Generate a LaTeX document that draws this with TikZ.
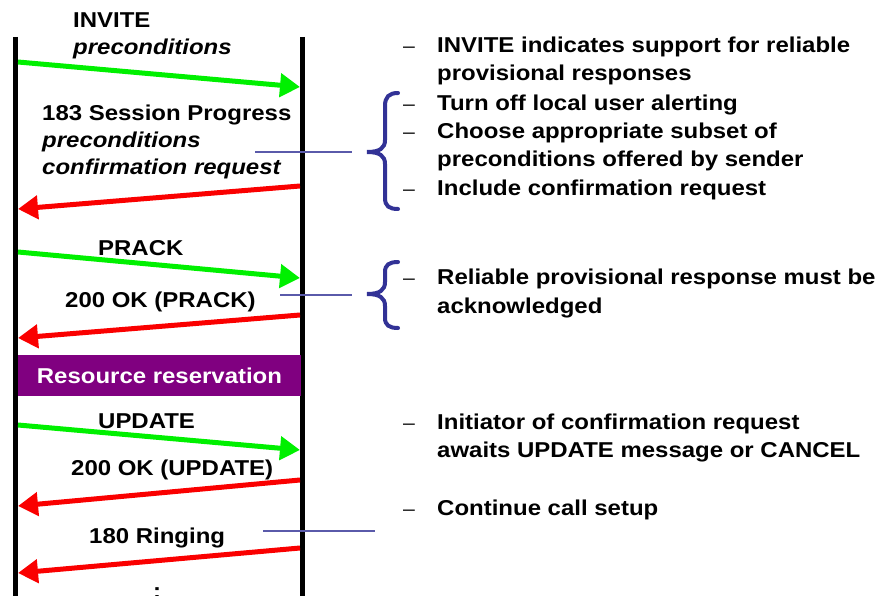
\documentclass[tikz,border=0pt]{standalone}
\usepackage{fontspec}
\setmainfont{Liberation Sans}[FakeStretch=1.115]
\usetikzlibrary{arrows.meta}
\definecolor{msggreen}{RGB}{0,240,0}
\definecolor{msgred}{RGB}{250,0,0}
\definecolor{resv}{RGB}{128,0,128}
\definecolor{bracecol}{RGB}{50,50,150}
\definecolor{leadcol}{RGB}{90,90,170}
\tikzset{
  lifeline/.style={line width=5pt},
  msgarrow/.style={line width=5pt,-{Triangle[length=20pt,width=23pt]}},
  req/.style={msgarrow,draw=msggreen},
  resp/.style={msgarrow,draw=msgred},
  lbl/.style={anchor=base west,inner sep=0pt,font=\fontsize{21.5}{28}\selectfont\bfseries},
  ilbl/.style={lbl,font=\fontsize{21.5}{28}\selectfont\bfseries\itshape},
  dashmark/.style={anchor=base west,inner sep=0pt,font=\fontsize{19}{28}\selectfont},
  leader/.style={draw=leadcol,line width=1.2pt},
  bracestyle/.style={draw=bracecol,line width=4pt,line cap=round},
}
\begin{document}
\begin{tikzpicture}[x=1pt,y=-1pt]
\useasboundingbox (0,0) rectangle (880,596);
% lifelines
\coordinate (Ltop) at (15.5,37);
\coordinate (Lbot) at (15.5,600);
\coordinate (Rtop) at (302.5,37);
\coordinate (Rbot) at (302.5,600);
\draw[lifeline] (Ltop) -- (Lbot);
\draw[lifeline] (Rtop) -- (Rbot);
% resource reservation
\node[fill=resv,text=white,minimum width=283pt,minimum height=41pt,inner sep=0pt,
      font=\fontsize{21.5}{28}\selectfont\bfseries] (resv) at (159.5,375.5) {Resource reservation};
% arrow endpoints
\coordinate (a1s) at (18,62);  \coordinate (a1e) at (300,87);
\coordinate (a2s) at (300,186); \coordinate (a2e) at (18,209);
\coordinate (a3s) at (18,252); \coordinate (a3e) at (300,278);
\coordinate (a4s) at (300,315); \coordinate (a4e) at (18,338);
\coordinate (a5s) at (18,425); \coordinate (a5e) at (300,450);
\coordinate (a6s) at (300,480); \coordinate (a6e) at (18,506);
\coordinate (a7s) at (300,548); \coordinate (a7e) at (18,573);
\draw[req] (a1s) -- (a1e);
\draw[resp] (a2s) -- (a2e);
\draw[req] (a3s) -- (a3e);
\draw[resp] (a4s) -- (a4e);
\draw[req] (a5s) -- (a5e);
\draw[resp] (a6s) -- (a6e);
\draw[resp] (a7s) -- (a7e);
% left labels
\node[lbl] (t1a) at (73,28) {INVITE};
\node[ilbl] (t1b) at (73,55) {preconditions};
\node[lbl] (t2a) at (42,121) {183 Session Progress};
\node[ilbl] (t2b) at (42,148) {preconditions};
\node[ilbl] (t2c) at (42,175) {confirmation request};
\node[lbl] (t3) at (98,255) {PRACK};
\node[lbl] (t4) at (65,307) {200 OK (PRACK)};
\node[lbl] (t5) at (98,428) {UPDATE};
\node[lbl] (t6) at (71,475) {200 OK (UPDATE)};
\node[lbl] (t7) at (89,543) {180 Ringing};
\node[lbl] (t8) at (153,598) {:};
% leaders
\coordinate (p1a) at (255,152); \coordinate (p1b) at (352,152);
\coordinate (p2a) at (280,295); \coordinate (p2b) at (352,295);
\coordinate (p3a) at (263,531); \coordinate (p3b) at (375,531);
\draw[leader] (p1a) -- (p1b);
\draw[leader] (p2a) -- (p2b);
\draw[leader] (p3a) -- (p3b);
% braces
\draw[bracestyle] (398,93) .. controls (389,93) and (385,97) .. (385,106) -- (385,140)
   .. controls (385,148) and (380,152) .. (367,152)
   .. controls (380,152) and (385,156) .. (385,164) -- (385,198)
   .. controls (385,206) and (389,209) .. (398,209);
\draw[bracestyle] (398,262) .. controls (389,262) and (385,265) .. (385,272) -- (385,282)
   .. controls (385,290) and (380,294) .. (367,294)
   .. controls (380,294) and (385,298) .. (385,306) -- (385,318)
   .. controls (385,325) and (389,328) .. (398,328);
% right notes
\node[dashmark] (d1) at (403,53) {–};
\node[lbl] (r1a) at (437,53) {INVITE indicates support for reliable};
\node[lbl] (r1b) at (437,81) {provisional responses};
\node[dashmark] (d2) at (403,111) {–};
\node[lbl] (r2) at (437,111) {Turn off local user alerting};
\node[dashmark] (d3) at (403,139) {–};
\node[lbl] (r3a) at (437,139) {Choose appropriate subset of};
\node[lbl] (r3b) at (437,167) {preconditions offered by sender};
\node[dashmark] (d4) at (403,196) {–};
\node[lbl] (r4) at (437,196) {Include confirmation request};
\node[dashmark] (d5) at (403,284) {–};
\node[lbl] (r5a) at (437,284) {Reliable provisional response must be};
\node[lbl] (r5b) at (437,313) {acknowledged};
\node[dashmark] (d6) at (403,429) {–};
\node[lbl] (r6a) at (437,429) {Initiator of confirmation request};
\node[lbl] (r6b) at (437,457) {awaits UPDATE message or CANCEL};
\node[dashmark] (d7) at (403,515) {–};
\node[lbl] (r7) at (437,515) {Continue call setup};
\end{tikzpicture}
\end{document}
